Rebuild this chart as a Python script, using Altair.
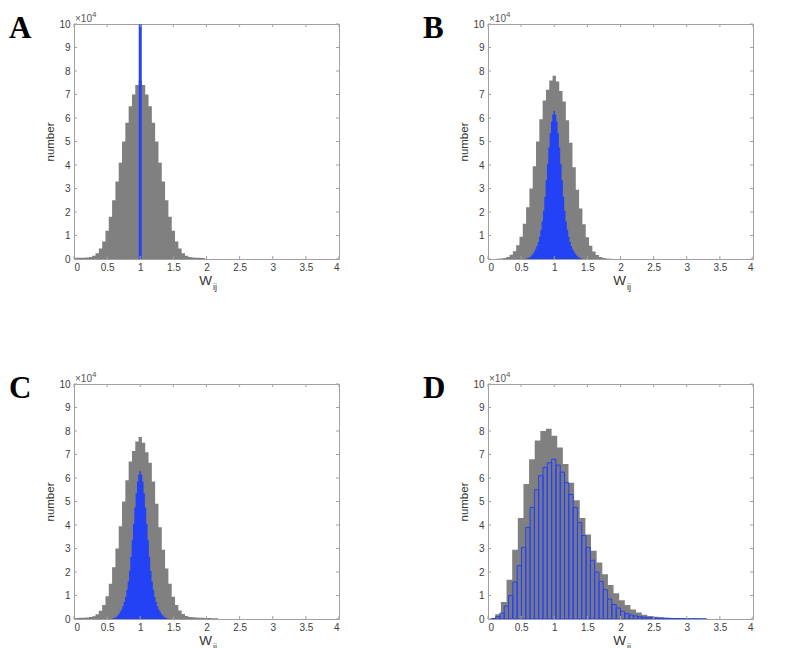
import altair as alt
import pandas as pd

GRAY = "#808080"
BLUE = "#2341f5"
FRAME = "#a0a0a0"
TXT = "#333333"
W, H = 265, 235

x_ticks = [0, 0.5, 1, 1.5, 2, 2.5, 3, 3.5, 4]
y_ticks = [0, 1, 2, 3, 4, 5, 6, 7, 8, 9, 10]

# counts in units of 1e4
# Panel A: gray histogram, bin width 0.05, first bin centred at 0.00
a_gray_first, a_gray_w = 0.0, 0.05
a_gray = [0.05, 0.05, 0.05, 0.05, 0.06, 0.09, 0.14, 0.25, 0.45, 0.75,
          1.2, 1.8, 2.5, 3.3, 4.1, 5.0, 5.8, 6.5, 7.0, 7.4,
          7.6,
          7.4, 7.0, 6.5, 5.8, 5.0, 4.1, 3.3, 2.5, 1.8, 1.2,
          0.75, 0.45, 0.25, 0.14, 0.09, 0.06, 0.05, 0.05, 0.04]
# Panel A: blue – all weights at 1 (bar runs off the top)
a_blue_first, a_blue_w = 1.0, 0.045
a_blue = [1000]

# Panel B
b_gray_first, b_gray_w = 0.05, 0.05
b_gray = [0.002, 0.005, 0.01, 0.02, 0.045, 0.09, 0.18, 0.33, 0.58, 0.95,
          1.5, 2.2, 3.0, 3.95, 5.0, 5.95, 6.75, 7.2, 7.6,
          7.8,
          7.55, 7.15, 6.7, 5.9, 4.95, 3.9, 2.95, 2.15, 1.48, 0.93,
          0.56, 0.32, 0.17, 0.09, 0.045, 0.02, 0.01, 0.005, 0.002]
b_blue_first, b_blue_w = 0.58, 0.02
b_blue = [0.02, 0.035, 0.06, 0.1, 0.15, 0.22, 0.32, 0.42, 0.55, 0.72,
          0.95, 1.25, 1.6, 2.05, 2.65, 3.35, 4.05, 4.75, 5.35, 5.85, 6.15,
          6.3,
          6.15, 5.85, 5.35, 4.75, 4.05, 3.35, 2.65, 2.05, 1.6, 1.25,
          0.95, 0.72, 0.55, 0.42, 0.32, 0.22, 0.15, 0.1, 0.06, 0.035, 0.02]

# Panel C
c_gray_first, c_gray_w = 0.0, 0.05
c_gray = [0.04, 0.04, 0.05, 0.05, 0.06, 0.08, 0.12, 0.2, 0.35, 0.6,
          0.97, 1.5, 2.2, 3.0, 3.95, 5.0, 5.9, 6.7, 7.15, 7.55,
          7.75,
          7.5, 7.1, 6.65, 5.85, 4.9, 3.9, 2.95, 2.15, 1.5, 0.95,
          0.6, 0.36, 0.21, 0.13, 0.09, 0.07, 0.06, 0.05, 0.05, 0.04,
          0.04, 0.03, 0.03]
c_blue_first, c_blue_w = 0.58, 0.02
c_blue = [0.02, 0.035, 0.06, 0.1, 0.15, 0.22, 0.32, 0.42, 0.55, 0.72,
          0.95, 1.25, 1.6, 2.05, 2.65, 3.35, 4.05, 4.75, 5.35, 5.85, 6.15,
          6.3,
          6.15, 5.85, 5.35, 4.75, 4.05, 3.35, 2.65, 2.05, 1.6, 1.25,
          0.95, 0.72, 0.55, 0.42, 0.32, 0.22, 0.15, 0.1, 0.06, 0.035, 0.02]

# Panel D (left edges given)
d_gray_left, d_gray_w = 0.11, 0.085
d_gray = [0.2, 0.72, 1.67, 2.95, 4.3, 5.74, 6.8, 7.6, 8.0, 8.1,
          7.8, 7.3, 6.6, 5.8, 5.05, 4.3, 3.6, 2.9, 2.4, 1.9,
          1.45, 1.1, 0.8, 0.6, 0.4, 0.28, 0.18, 0.13, 0.1, 0.07,
          0.05, 0.035, 0.025, 0.018, 0.012, 0.008, 0.005, 0.003]
d_blue_left, d_blue_w = 0.05, 0.065
d_blue = [0.02, 0.1, 0.25, 0.55, 1.0, 1.57, 2.27, 3.05, 3.9, 4.75,
          5.5, 6.1, 6.45, 6.65, 6.8, 6.55, 6.25, 5.8, 5.3, 4.75,
          4.1, 3.55, 3.05, 2.5, 2.0, 1.6, 1.25, 0.85, 0.62, 0.47,
          0.33, 0.23, 0.17, 0.13, 0.1, 0.08, 0.06, 0.05, 0.04, 0.035,
          0.03, 0.025, 0.02, 0.016, 0.012, 0.01, 0.008, 0.006, 0.004, 0.003]


def step_df(left0, width, heights):
    xs = [left0 + i * width for i in range(len(heights))]
    xs.append(left0 + len(heights) * width)
    ys = list(heights) + [heights[-1]]
    return pd.DataFrame({"x": xs, "y": ys})


def bar_df(left0, width, heights):
    xs = [left0 + i * width for i in range(len(heights))]
    return pd.DataFrame({"x": xs, "x2": [v + width for v in xs], "y": heights})


XS = alt.Scale(domain=[0, 4], nice=False, zero=False)
YS = alt.Scale(domain=[0, 10], nice=False, zero=True)
XAX = alt.Axis(values=x_ticks, format="~g", title=None, labelPadding=3)
YAX = alt.Axis(values=y_ticks, title="number", titlePadding=3, labelPadding=4)


def X():
    return alt.X("x:Q", scale=XS, axis=XAX)


def Y():
    return alt.Y("y:Q", scale=YS, axis=YAX)


def text_layer(t, x, y, size, font="Liberation Sans", weight="normal", color=TXT, align="left"):
    return alt.Chart(pd.DataFrame({"t": [t]})).mark_text(
        font=font, fontSize=size, fontWeight=weight, color=color, align=align,
        baseline="alphabetic").encode(x=alt.value(x), y=alt.value(y), text="t:N")


def panel(letter, gray, blue_layer):
    layers = [
        alt.Chart(gray).mark_area(interpolate="step-after", color=GRAY, clip=True)
        .encode(x=X(), y=Y()),
        blue_layer,
    ]
    xt = pd.DataFrame({"x": x_ticks})
    yt = pd.DataFrame({"y": y_ticks})
    layers += [
        alt.Chart(xt).mark_rule(color=FRAME, strokeWidth=1).encode(x=X(), y=alt.value(H), y2=alt.value(H - 3)),
        alt.Chart(xt).mark_rule(color=FRAME, strokeWidth=1).encode(x=X(), y=alt.value(0), y2=alt.value(3)),
        alt.Chart(yt).mark_rule(color=FRAME, strokeWidth=1).encode(y=Y(), x=alt.value(0), x2=alt.value(3)),
        alt.Chart(yt).mark_rule(color=FRAME, strokeWidth=1).encode(y=Y(), x=alt.value(W - 3), x2=alt.value(W)),
        text_layer(letter, -65, 14, 31, font="Liberation Serif", weight="bold", color="black"),
        text_layer("\u00d710", 1, -2, 10, color="#555555"),
        text_layer("4", 18, -7, 8, color="#555555"),
        text_layer("W", 131.5, H + 26, 13.5, align="center"),
        text_layer("ij", 139, H + 31, 9),
    ]
    return alt.layer(*layers).properties(width=W, height=H)


def area_blue(df):
    return alt.Chart(df).mark_area(interpolate="step-after", color=BLUE, clip=True).encode(x=X(), y=Y())


pA = panel("A", step_df(a_gray_first - a_gray_w / 2, a_gray_w, a_gray),
           alt.Chart(bar_df(a_blue_first - a_blue_w / 2, a_blue_w, a_blue)).mark_bar(color=BLUE, clip=True)
           .encode(x=X(), x2="x2:Q", y=Y(), y2=alt.datum(0)))
pB = panel("B", step_df(b_gray_first - b_gray_w / 2, b_gray_w, b_gray),
           area_blue(step_df(b_blue_first - b_blue_w / 2, b_blue_w, b_blue)))
pC = panel("C", step_df(c_gray_first - c_gray_w / 2, c_gray_w, c_gray),
           area_blue(step_df(c_blue_first - c_blue_w / 2, c_blue_w, c_blue)))
pD = panel("D", step_df(d_gray_left, d_gray_w, d_gray),
           alt.Chart(bar_df(d_blue_left, d_blue_w, d_blue)).mark_bar(
               fill=BLUE, fillOpacity=0.13, stroke=BLUE, strokeWidth=1, clip=True)
           .encode(x=X(), x2="x2:Q", y=Y(), y2=alt.datum(0)))

chart = alt.concat(pA, pB, pC, pD, columns=2, spacing={"row": 125, "column": 149},
                   bounds="flush").properties(
    padding={"left": 0, "top": 2, "right": 0, "bottom": 0}
).configure_view(stroke=FRAME, strokeWidth=1).configure_axis(
    labelFont="Liberation Sans", labelFontSize=10, labelColor="#404040",
    titleFont="Liberation Sans", titleFontSize=11.5, titleFontWeight="normal", titleColor=TXT,
    ticks=False, domain=False, grid=False)

chart.save("out.html", embed_options={"renderer": "svg", "actions": False})
